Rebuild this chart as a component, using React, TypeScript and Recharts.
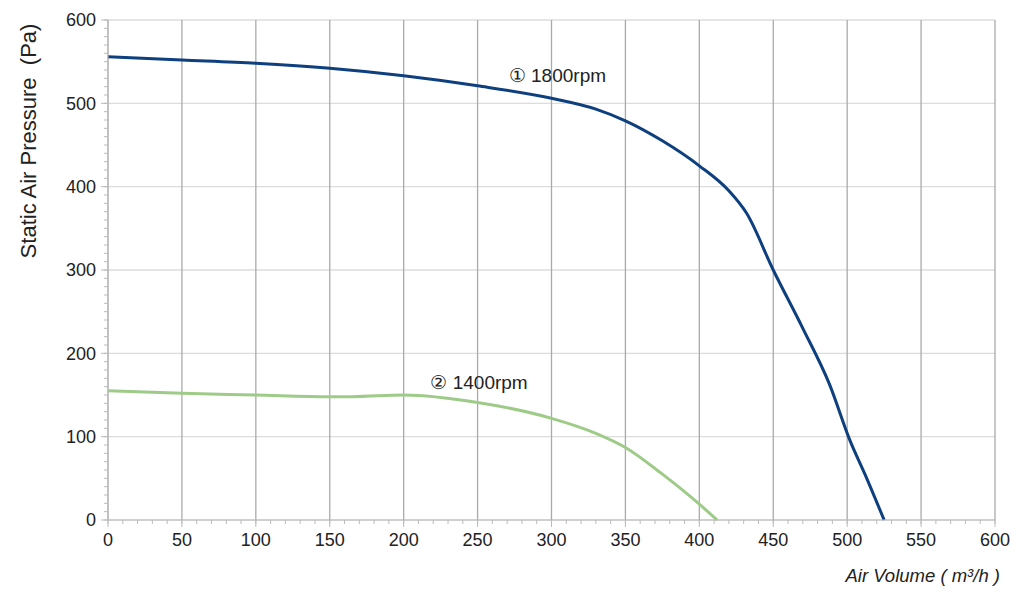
import { LineChart, Line, XAxis, YAxis, CartesianGrid, ReferenceDot, Label } from "recharts";

const volume1800 = [0, 50, 100, 150, 200, 250, 300, 330, 350, 375, 400, 420, 432, 450, 470, 488, 502, 512, 525];
const pressure1800 = [556, 552, 548, 542, 533, 521, 506, 493, 479, 455, 425, 395, 368, 300, 230, 163, 95, 55, 0];

const volume1400 = [0, 50, 100, 150, 165, 200, 250, 300, 330, 350, 375, 400, 412];
const pressure1400 = [155, 152, 150, 148, 148, 150, 141, 122, 104, 87, 55, 19, 0];

const majorX = [0, 50, 100, 150, 200, 250, 300, 350, 400, 450, 500, 550, 600];
const minorX = Array.from({ length: 61 }, (_, i) => i * 10);
const majorY = [0, 100, 200, 300, 400, 500, 600];
const minorY = Array.from({ length: 61 }, (_, i) => i * 10);

const curve1800 = volume1800.map((v, i) => ({ v, p: pressure1800[i] }));
const curve1400 = volume1400.map((v, i) => ({ v, p: pressure1400[i] }));

const font = "'Liberation Sans', Arial, sans-serif";
const tickStyle = { fill: "#222", fontSize: 18, fontFamily: font };
const noLabel = () => <g />;

export default function App() {
  return (
    <LineChart width={1008} height={590} margin={{ top: 12, right: 21, left: 0, bottom: 0 }}>
      <CartesianGrid horizontal vertical={false} stroke="#dcdcdc" strokeWidth={1.3} />
      <CartesianGrid horizontal={false} vertical stroke="#aaaaaa" strokeWidth={1.3} />
      <XAxis
        type="number"
        dataKey="v"
        domain={[0, 600]}
        ticks={majorX}
        interval={0}
        tickSize={7}
        tickMargin={6}
        height={78}
        tick={tickStyle}
        axisLine={{ stroke: "#bbb" }}
        tickLine={{ stroke: "#bbb" }}
      >
        <Label
          content={({ viewBox }: any) => (
            <text
              x={viewBox.x + viewBox.width + 5}
              y={viewBox.y + 62}
              textAnchor="end"
              fontFamily={font}
              fontSize={18.5}
              fontStyle="italic"
              fill="#222"
            >
              Air Volume ( m³/h )
            </text>
          )}
        />
      </XAxis>
      <XAxis
        xAxisId="minor"
        type="number"
        dataKey="v"
        domain={[0, 600]}
        allowDataOverflow
        ticks={minorX}
        interval={0}
        tick={noLabel}
        tickSize={-4}
        mirror
        height={1}
        axisLine={false}
        tickLine={{ stroke: "#bbb" }}
      />
      <YAxis
        type="number"
        domain={[0, 600]}
        ticks={majorY}
        interval={0}
        tickSize={7}
        tickMargin={5}
        width={100}
        tick={tickStyle}
        axisLine={{ stroke: "#bbb" }}
        tickLine={{ stroke: "#bbb" }}
      >
        <Label
          content={() => (
            <text
              x={20}
              y={133}
              transform="rotate(-90 20 133)"
              textAnchor="middle"
              dominantBaseline="central"
              fontFamily={font}
              fontSize={22}
              fill="#222"
              style={{ whiteSpace: "pre" }}
            >
              Static Air Pressure  (Pa)
            </text>
          )}
        />
      </YAxis>
      <YAxis
        yAxisId="minor"
        type="number"
        domain={[0, 600]}
        allowDataOverflow
        ticks={minorY}
        interval={0}
        tick={noLabel}
        tickSize={-4}
        mirror
        width={1}
        axisLine={false}
        tickLine={{ stroke: "#bbb" }}
      />
      <Line
        data={curve1400}
        dataKey="p"
        type="monotone"
        stroke="#9ecb88"
        strokeWidth={3}
        dot={false}
        isAnimationActive={false}
      />
      <Line
        data={curve1800}
        dataKey="p"
        type="monotone"
        stroke="#0e3f7f"
        strokeWidth={3}
        dot={false}
        isAnimationActive={false}
      />
      <ReferenceDot x={304} y={534} r={0} stroke="none" fill="none" ifOverflow="visible">
        <Label value="① 1800rpm" position="center" fill="#222" fontSize={19} fontFamily={font} />
      </ReferenceDot>
      <ReferenceDot x={251} y={165} r={0} stroke="none" fill="none" ifOverflow="visible">
        <Label value="② 1400rpm" position="center" fill="#222" fontSize={19} fontFamily={font} />
      </ReferenceDot>
    </LineChart>
  );
}
